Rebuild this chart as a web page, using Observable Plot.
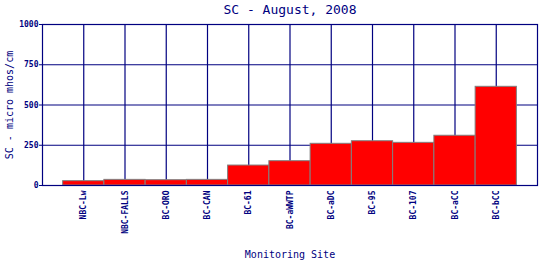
<!DOCTYPE html>
<html>
<head>
<meta charset="utf-8">
<script src="https://cdn.jsdelivr.net/npm/d3@7"></script>
<script src="https://cdn.jsdelivr.net/npm/@observablehq/plot@0.6"></script>
<style>
  html, body { margin: 0; padding: 0; background: #fff; }
  #title { width: 540px; height: 20px; line-height: 20px; text-align: center; font-family: "DejaVu Sans Mono", monospace; font-size: 13px; color: #000080; padding-left: 40px; box-sizing: border-box; }
</style>
</head>
<body>
<div id="title">SC - August, 2008</div>
<div id="chart"></div>
<script>
const sites = ["NBC-Lw", "NBC-FALLS", "BC-ORO", "BC-CAN", "BC-61", "BC-aWWTP", "BC-aDC", "BC-95", "BC-107", "BC-aCC", "BC-bCC"];
const scValues = [27, 35, 33, 35, 124, 151, 259, 275, 265, 309, 613];
const yTicks = [0, 250, 500, 750, 1000];
const yGrid = [250, 500, 750, 1000];

const data = sites.map((s, i) => ({site: s, sc: scValues[i]}));
const navy = "#000080";

const chart = Plot.plot({
  width: 540,
  height: 240,
  marginTop: 4,
  marginLeft: 42,
  marginRight: 3,
  marginBottom: 75,
  style: {fontFamily: "DejaVu Sans Mono, monospace", color: navy, background: "#fff"},
  x: {type: "band", domain: sites, paddingInner: 0, paddingOuter: 0.5, round: false},
  y: {domain: [0, 1000]},
  marks: [
    Plot.ruleX(sites, {x: d => d, stroke: navy, strokeWidth: 1.2}),
    Plot.ruleY(yGrid, {y: d => d, stroke: navy, strokeWidth: 1.2}),
    Plot.barY(data, {x: "site", y: "sc", fill: "#ff0000", stroke: "#808080", strokeWidth: 1}),
    Plot.frame({stroke: navy, strokeWidth: 1.2}),
    Plot.axisY({ticks: yTicks, tickSize: 3, tickPadding: 1, fontSize: 8, fontWeight: "bold", stroke: navy, label: null, tickFormat: d => String(d)}),
    Plot.axisX({tickRotate: -90, tickSize: 0, tickPadding: 5, fontSize: 8, fontWeight: "bold", label: null}),
    Plot.text(["Monitoring Site"], {frameAnchor: "bottom", dy: 69, fontSize: 10, fill: navy, lineAnchor: "middle"}),
    Plot.text(["SC - micro mhos/cm"], {frameAnchor: "left", dx: -33, rotate: -90, fontSize: 10, fill: navy, textAnchor: "middle"})
  ]
});
document.getElementById("chart").appendChild(chart);
</script>
</body>
</html>
